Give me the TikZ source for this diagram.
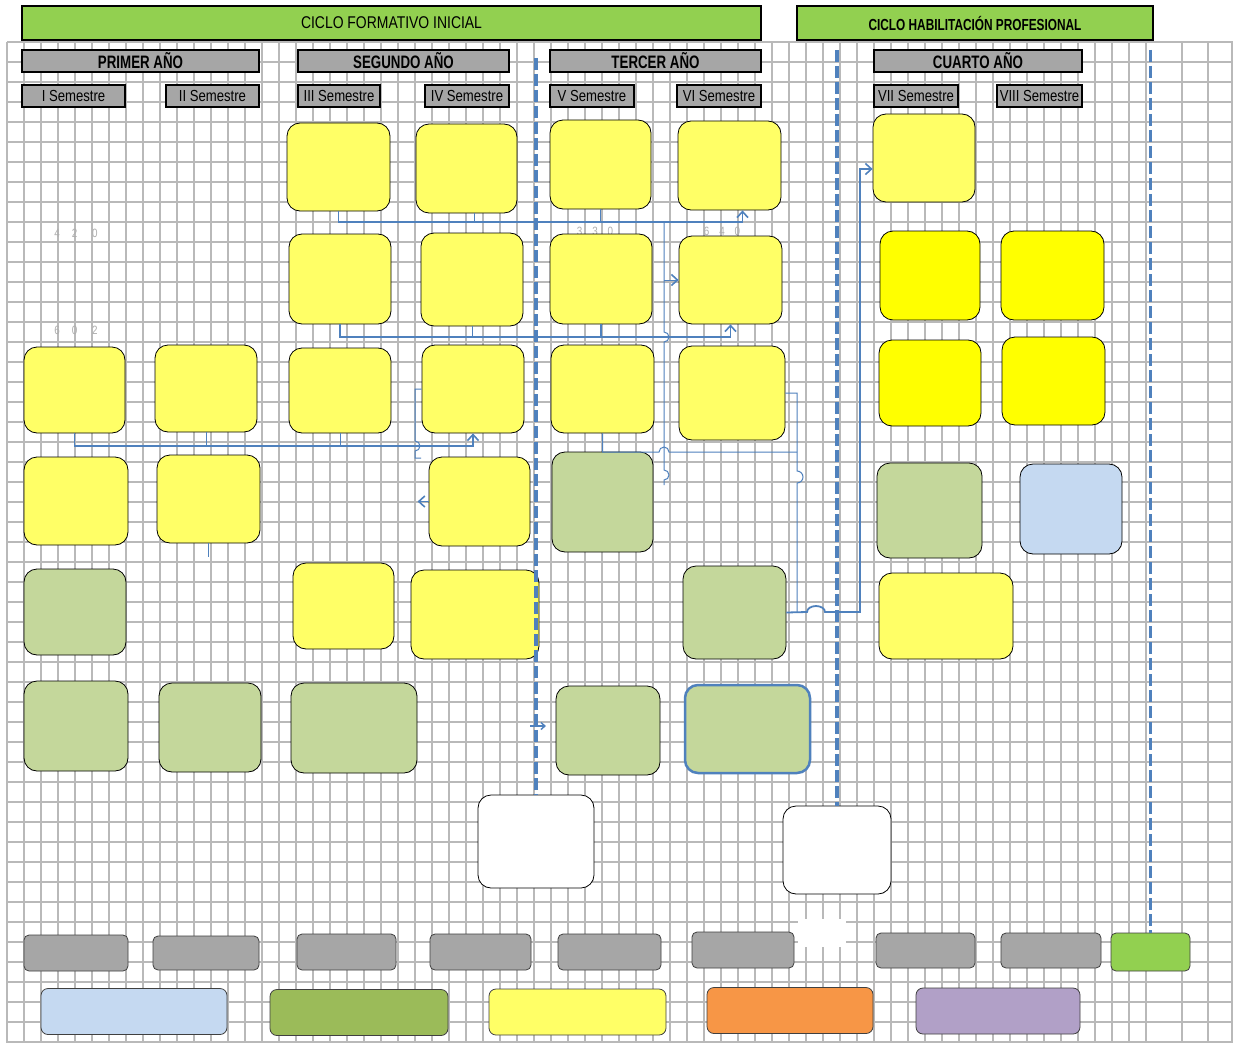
\documentclass[tikz,border=0pt]{standalone}
\usepackage{fontspec}
\setmainfont{Liberation Sans}
\newfontfamily\narrowsans[FakeStretch=0.82]{Liberation Sans}
\newfontfamily\tightsans[FakeStretch=0.74]{Liberation Sans}
\usepackage{xcolor}
\usetikzlibrary{arrows.meta}

\definecolor{cbanner}{HTML}{92D050}
\definecolor{cgrey}{HTML}{A6A6A6}
\definecolor{cyellow}{HTML}{FFFF66}
\definecolor{cbright}{HTML}{FFFF00}
\definecolor{cgreen}{HTML}{C4D79B}
\definecolor{cblue}{HTML}{C5D9F1}
\definecolor{colive}{HTML}{9BBB59}
\definecolor{corange}{HTML}{F79646}
\definecolor{clavender}{HTML}{B1A0C7}
\definecolor{cline}{HTML}{4F81BD}

\begin{document}
\begin{tikzpicture}[x=1pt, y=-1pt,
    gridline/.style={draw=gray!55, line width=1.4pt},
    course/.style={draw=black, line width=0.8pt, rounded corners=13pt, inner sep=0pt},
    footbox/.style={draw=black!75, line width=0.8pt, rounded corners=5pt, inner sep=0pt},
    legendbox/.style={draw=black!75, line width=0.8pt, rounded corners=7pt, inner sep=0pt},
    banner/.style={draw=black, line width=1.6pt, fill=cbanner, inner sep=0pt},
    yearbar/.style={draw=black, line width=1.6pt, fill=cgrey, inner sep=0pt,
        font=\tightsans\bfseries\fontsize{18}{20}\selectfont},
    semtag/.style={draw=black, line width=1.6pt, fill=cgrey, inner sep=0pt,
        font=\narrowsans\fontsize{16}{18}\selectfont},
    link/.style={draw=cline, line width=1.8pt},
    thinlink/.style={draw=cline, line width=1pt},
    linkarrow/.style={-{Straight Barb[length=6pt,width=11pt,line width=1.6pt]}},
    smallarrow/.style={-{Straight Barb[length=4pt,width=7pt,line width=1.4pt]}},
    divider/.style={draw=cline, line width=3.5pt, dash pattern=on 12pt off 4pt},
    ghost/.style={text=black!32, font=\narrowsans\fontsize{12}{13}\selectfont}
]
\useasboundingbox (0,0) rectangle (1233,1043);
\fill[white] (0,0) rectangle (1233,1043);

% Background grid
\foreach \gx in {7,24,...,1160} {
    \draw[gridline] (\gx,42) -- (\gx,1043);
}
\foreach \gx in {1182,1208,1232} {
    \draw[gridline] (\gx,42) -- (\gx,1043);
}
\foreach \gy in {42,62,...,1043} {
    \draw[gridline] (7,\gy) -- (1233,\gy);
}
\fill[white] (798,919) rectangle (846,947);

% Cycle banners
\node[banner, minimum width=739pt, minimum height=34pt, font=\narrowsans\fontsize{17}{20}\selectfont]
    (cycleA) at (391.5,23) {CICLO FORMATIVO INICIAL};
\node[banner, minimum width=356pt, minimum height=34pt, font=\tightsans\bfseries\fontsize{16}{18}\selectfont]
    (cycleB) at (975,23) {CICLO HABILITACIÓN PROFESIONAL};

% Years
\foreach \name/\x/\w/\txt in {yearA/140.5/237/PRIMER AÑO, yearB/403.5/211/SEGUNDO AÑO,
        yearC/655.5/211/TERCER AÑO, yearD/978/208/CUARTO AÑO} {
    \node[yearbar, minimum width=\w pt, minimum height=22pt] (\name) at (\x,61) {\txt};
}

% Semesters
\foreach \name/\x/\w/\txt in {semI/73.5/103/I Semestre, semII/212.5/93/II Semestre,
        semIII/339/82/III Semestre, semIV/467/84/IV Semestre,
        semV/592/84/V Semestre, semVI/719/84/VI Semestre,
        semVII/916/84/VII Semestre, semVIII/1039.5/85/VIII Semestre} {
    \node[semtag, minimum width=\w pt, minimum height=22pt] (\name) at (\x,96) {\txt};
}

% Faint credit numbers
\node[ghost] (ghostA) at (76,233) {4\hspace{12pt}2\hspace{15pt}0};
\node[ghost] (ghostB) at (76,330) {6\hspace{12pt}0\hspace{15pt}2};
\node[ghost] (ghostC) at (595,231) {3\hspace{10pt}3\hspace{10pt}0};
\node[ghost] (ghostD) at (722,231) {6\hspace{10pt}4\hspace{10pt}0};

% Course boxes
\foreach \name/\x/\y/\w/\h/\col in {
    a1/74.5/390/101/86/cyellow, a2/76/501/104/88/cyellow, a3/75/612/102/86/cgreen, a4/76/726/104/90/cgreen,
    b1/206/388.5/102/87/cyellow, b2/208.5/499/103/88/cyellow, b3/210/727.5/102/89/cgreen,
    c1/338.5/167/103/88/cyellow, c2/340/279/102/90/cyellow, c3/340/390.5/102/85/cyellow,
    c4/343.5/606/101/86/cyellow, c5/354/728/126/90/cgreen,
    d1/466.5/168.5/101/89/cyellow, d2/472/279.5/102/93/cyellow, d3/473/389/102/88/cyellow,
    d4/479.5/501.5/101/89/cyellow, d5/475/614.5/128/89/cyellow,
    e1/600.5/164.5/101/89/cyellow, e2/601/279/102/90/cyellow, e3/602.5/389/103/88/cyellow,
    e4/602.5/502/101/100/cgreen, e5/608/730.5/104/89/cgreen,
    f1/729.5/165.5/103/89/cyellow, f2/730.5/280/103/88/cyellow, f3/732/393/106/94/cyellow,
    f4/734.5/612.5/103/93/cgreen,
    g1/924/158/102/88/cyellow, g2/930/275.5/100/89/cbright, g3/930/383/102/86/cbright,
    g4/929.5/510.5/105/95/cgreen, g5/946/616/134/86/cyellow,
    h1/1052.5/275.5/103/89/cbright, h2/1053.5/381/103/88/cbright, h3/1071/509/102/90/cblue,
    w1/536/841.5/116/93/white, w2/837/850/108/88/white} {
    \node[course, fill=\col, minimum width=\w pt, minimum height=\h pt] (\name) at (\x,\y) {};
}
\node[course, fill=cgreen, draw=cline, line width=2.5pt, minimum width=125pt, minimum height=88pt]
    (f5) at (747.5,729) {};

% Bottom row
\foreach \name/\x/\y/\w/\h/\col in {
    k1/76/953/104/36/cgrey, k2/206/953/106/34/cgrey, k3/346.5/952/99/36/cgrey,
    k4/480.5/952/101/36/cgrey, k5/609.5/952/103/36/cgrey, k6/743/950/102/36/cgrey,
    k7/925.5/950.5/99/35/cgrey, k8/1051/950.5/100/35/cgrey, k9/1150.5/952/79/38/cbanner} {
    \node[footbox, fill=\col, minimum width=\w pt, minimum height=\h pt] (\name) at (\x,\y) {};
}

% Legend
\foreach \name/\x/\y/\w/\col in {
    l1/134/1011.5/186/cblue, l2/359/1012.5/178/colive, l3/577.5/1012/177/cyellow,
    l4/790/1010.5/166/corange, l5/998/1011/164/clavender} {
    \node[legendbox, fill=\col, minimum width=\w pt, minimum height=46pt] (\name) at (\x,\y) {};
}

% Prerequisite links
\coordinate (busA) at (0,222);
\coordinate (busB) at (0,337);
\coordinate (busC) at (0,446);
\coordinate (f1in) at ([xshift=13pt]f1.south);
\coordinate (g1in) at ([yshift=-11pt]g1.west);
\coordinate (riserA) at (664,222);

\draw[link, linkarrow] (c1.south) |- (f1in |- busA) -- (f1in);
\draw[thinlink] ([xshift=8pt]d1.south) -- ([xshift=8pt]d1.south |- busA);
\draw[link] (e1.south) -- (e1.south |- busA);

\draw[link, linkarrow] (c2.south) |- (f2.south |- busB) -- (f2.south);
\draw[thinlink] (d2.south) -- (d2.south |- busB);
\draw[link] (e2.south) -- (e2.south |- busB);

\draw[link, linkarrow] (a1.south) |- (d3.south |- busC) -- (d3.south);
\draw[thinlink] (b1.south) -- (b1.south |- busC);
\draw[thinlink] (c3.south) -- (c3.south |- busC);
\draw[thinlink] (b2.south) -- ++(0,14);

\draw[thinlink] (riserA) -- (664,332) arc[start angle=90, end angle=-90, radius=5pt]
    -- (664,470) arc[start angle=90, end angle=-90, radius=5pt] -- (664,485);
\draw[thinlink, linkarrow] (riserA |- f2.west) -- (f2.west);

\draw[thinlink] (e3.south) |- (659,452) arc[start angle=180, end angle=0, radius=5pt] -- (797,452);
\draw[thinlink] (f3.east) -| (797,471) arc[start angle=90, end angle=-90, radius=6pt] -- (797,612);
\draw[link, linkarrow] (f4.east) -- (807,612) arc[start angle=180, end angle=0, x radius=9pt, y radius=6pt]
    -- (860,612) |- (g1in);

\draw[thinlink] (d3.west) -| (415,441) arc[start angle=90, end angle=-90, radius=5pt] -- (415,458) -- (421,458);
\draw[thinlink, linkarrow] (d4.west) -- ++(-11,0);

% Cycle dividers
\coordinate (topA) at (0,58);
\coordinate (topB) at (0,50);
\draw[divider] (w1.north |- topA) -- (w1.north);
\draw[divider] (w2.north |- topB) -- (w2.north);
\draw[divider] (k9.north |- topB) -- (k9.north);

\coordinate (tickV) at (530,726);
\draw[link, smallarrow] (tickV) -- ++(16,0);

\end{tikzpicture}
\end{document}
